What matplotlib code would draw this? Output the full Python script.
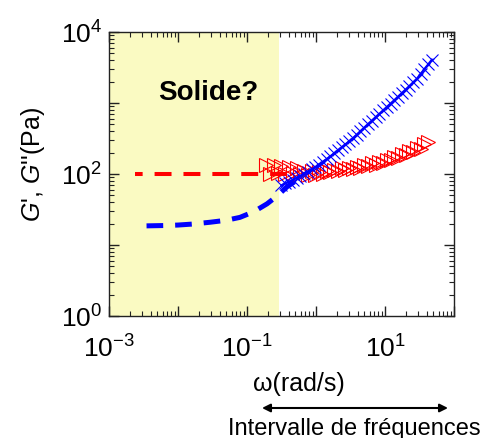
import numpy as np
import matplotlib
matplotlib.use("Agg")
import matplotlib.pyplot as plt
from matplotlib.ticker import LogLocator, NullFormatter, FuncFormatter

plt.rcParams['font.family'] = ['Liberation Sans', 'DejaVu Sans']
plt.rcParams['mathtext.fontset'] = 'custom'
plt.rcParams['mathtext.rm'] = 'Liberation Sans'
plt.rcParams['mathtext.it'] = 'Liberation Sans:italic'
plt.rcParams['mathtext.bf'] = 'Liberation Sans:bold'
plt.rcParams['lines.scale_dashes'] = False

# ---- data ----
# G' (storage modulus) measured, x markers
omega_gp = [0.316, 0.358, 0.406, 0.461, 0.522, 0.592, 0.671, 0.761, 0.863, 0.978,
            1.109, 1.257, 1.426, 1.616, 1.832, 2.077, 2.355, 2.670, 3.027, 3.432,
            3.890, 4.411, 5.000, 5.669, 6.427, 7.286, 8.260, 9.365, 10.62, 12.04,
            13.65, 15.47, 17.54, 19.89, 22.54, 25.56, 28.97, 32.85, 37.24, 42.22, 47.86]
gp = [69.2, 73.5, 78.0, 82.8, 87.9, 94.0, 100.7, 108.1, 115.9, 124.4,
      135.5, 148.6, 162.6, 177.8, 195.0, 215.3, 237.7, 261.8, 288.4, 319.2,
      358.1, 401.8, 449.8, 504.7, 563.6, 629.5, 703.1, 785.2, 879.0, 981.7,
      1096, 1230, 1380, 1545, 1734, 1950, 2198, 2565, 2992, 3491, 4074]

# G'' (loss modulus) measured, triangles
omega_gpp = [0.191, 0.217, 0.246, 0.279, 0.316, 0.358, 0.406, 0.461, 0.522, 0.592,
             0.671, 0.761, 0.863, 0.978, 1.109, 1.257, 1.426, 1.616, 1.832, 2.077,
             2.355, 2.670, 3.027, 3.432, 3.890, 4.411, 5.000, 5.669, 6.427, 7.286,
             8.260, 9.365, 10.62, 12.04, 13.65, 15.47, 17.54, 19.89, 22.54, 25.56,
             28.97, 32.85, 37.24, 42.22]
gpp = [135, 100, 132, 102, 129, 100, 126, 102, 120, 100,
       112, 98, 110, 98, 105, 100, 110, 105, 115, 110,
       120, 115, 123, 117, 126, 123, 132, 129, 141, 135,
       148, 145, 158, 155, 174, 170, 191, 186, 209, 204,
       234, 224, 263, 282]

# extrapolated low-frequency behaviour (dashed)
omega_gpp_ext = [0.00235, 0.38]
gpp_ext = [100, 100]
omega_gp_ext = [0.0035, 0.0063, 0.01, 0.016, 0.029, 0.05, 0.079, 0.126, 0.195, 0.28, 0.38, 0.5]
gp_ext = [18.6, 18.8, 19.1, 19.7, 20.9, 22.3, 24.5, 29.5, 38, 50, 66, 79]

solid_zone = [1e-3, 0.29]

xlim = [1e-3, 1e2]
ylim = [1e0, 1e4]
xlabels = {-3: '-3', -1: '-1', 1: '1'}
ylabels = {0: '0', 2: '2', 4: '4'}

# ---- figure ----
W, H = 488, 439
fig = plt.figure(figsize=(W / 100, H / 100), dpi=100)
ax = fig.add_axes([109 / W, 1 - 317 / H, (454 - 109) / W, (317 - 33) / H])
ax.set_xscale('log')
ax.set_yscale('log')
ax.set_xlim(xlim)
ax.set_ylim(ylim)

ax.axvspan(solid_zone[0], solid_zone[1], color='#FAFAC2', zorder=0, lw=0)

ax.plot(omega_gpp_ext, gpp_ext, color='#FF0000', lw=2.9,
        linestyle=(6.7, (12.2, 8.6)), solid_capstyle='butt', zorder=2)
ax.plot(omega_gp_ext, gp_ext, color='#0000FF', lw=3.6,
        linestyle=(0, (12, 8.6)), solid_capstyle='butt', zorder=2)

ax.plot(omega_gpp, gpp, linestyle='none', marker='>', ms=10, mfc='none',
        mec='#FF0000', mew=0.8, zorder=3)
ax.plot(omega_gp, gp, color='#0000FF', lw=1.6, marker='x', ms=8, mew=0.8,
        zorder=4)

ax.text(0.0272, 10 ** 3.16, 'Solide?', fontsize=20, fontweight='bold',
        ha='center', va='center', zorder=5)


def make_fmt(lab):
    def f(v, p):
        e = int(round(np.log10(v)))
        if e in lab and abs(np.log10(v) - e) < 1e-6:
            return r'$\mathregular{10^{%s}}$' % lab[e]
        return ''
    return FuncFormatter(f)


for axis, lab in ((ax.xaxis, xlabels), (ax.yaxis, ylabels)):
    axis.set_major_locator(LogLocator(base=10, numticks=20))
    axis.set_minor_locator(LogLocator(base=10, subs=np.arange(2, 10), numticks=20))
    axis.set_minor_formatter(NullFormatter())
    axis.set_major_formatter(make_fmt(lab))

ax.tick_params(which='both', direction='in', top=True, right=True,
               labelsize=19, color='#222222')
ax.tick_params(which='major', length=7, width=1)
ax.tick_params(which='minor', length=3.5, width=0.8)
ax.tick_params(axis='x', pad=13)
ax.tick_params(axis='y', pad=5)
for s in ax.spines.values():
    s.set_color('#222222')
    s.set_linewidth(1.0)

fig.text(33 / W, 1 - 165 / H, r"$\mathit{G}$', $\mathit{G}$''(Pa)", rotation=90,
         fontsize=18, ha='center', va='center')
fig.text(299 / W, 1 - 384 / H, 'ω(rad/s)', fontsize=18, ha='center', va='center')

ax.annotate('', xy=(448 / W, 1 - 409 / H), xytext=(262 / W, 1 - 409 / H),
            xycoords='figure fraction', textcoords='figure fraction',
            arrowprops=dict(arrowstyle='<|-|>', color='black', lw=1.5,
                            mutation_scale=12, shrinkA=0, shrinkB=0))
fig.text(354 / W, 1 - 429 / H, 'Intervalle de fréquences', fontsize=17,
         ha='center', va='center')

fig.savefig('out.png', dpi=100)
